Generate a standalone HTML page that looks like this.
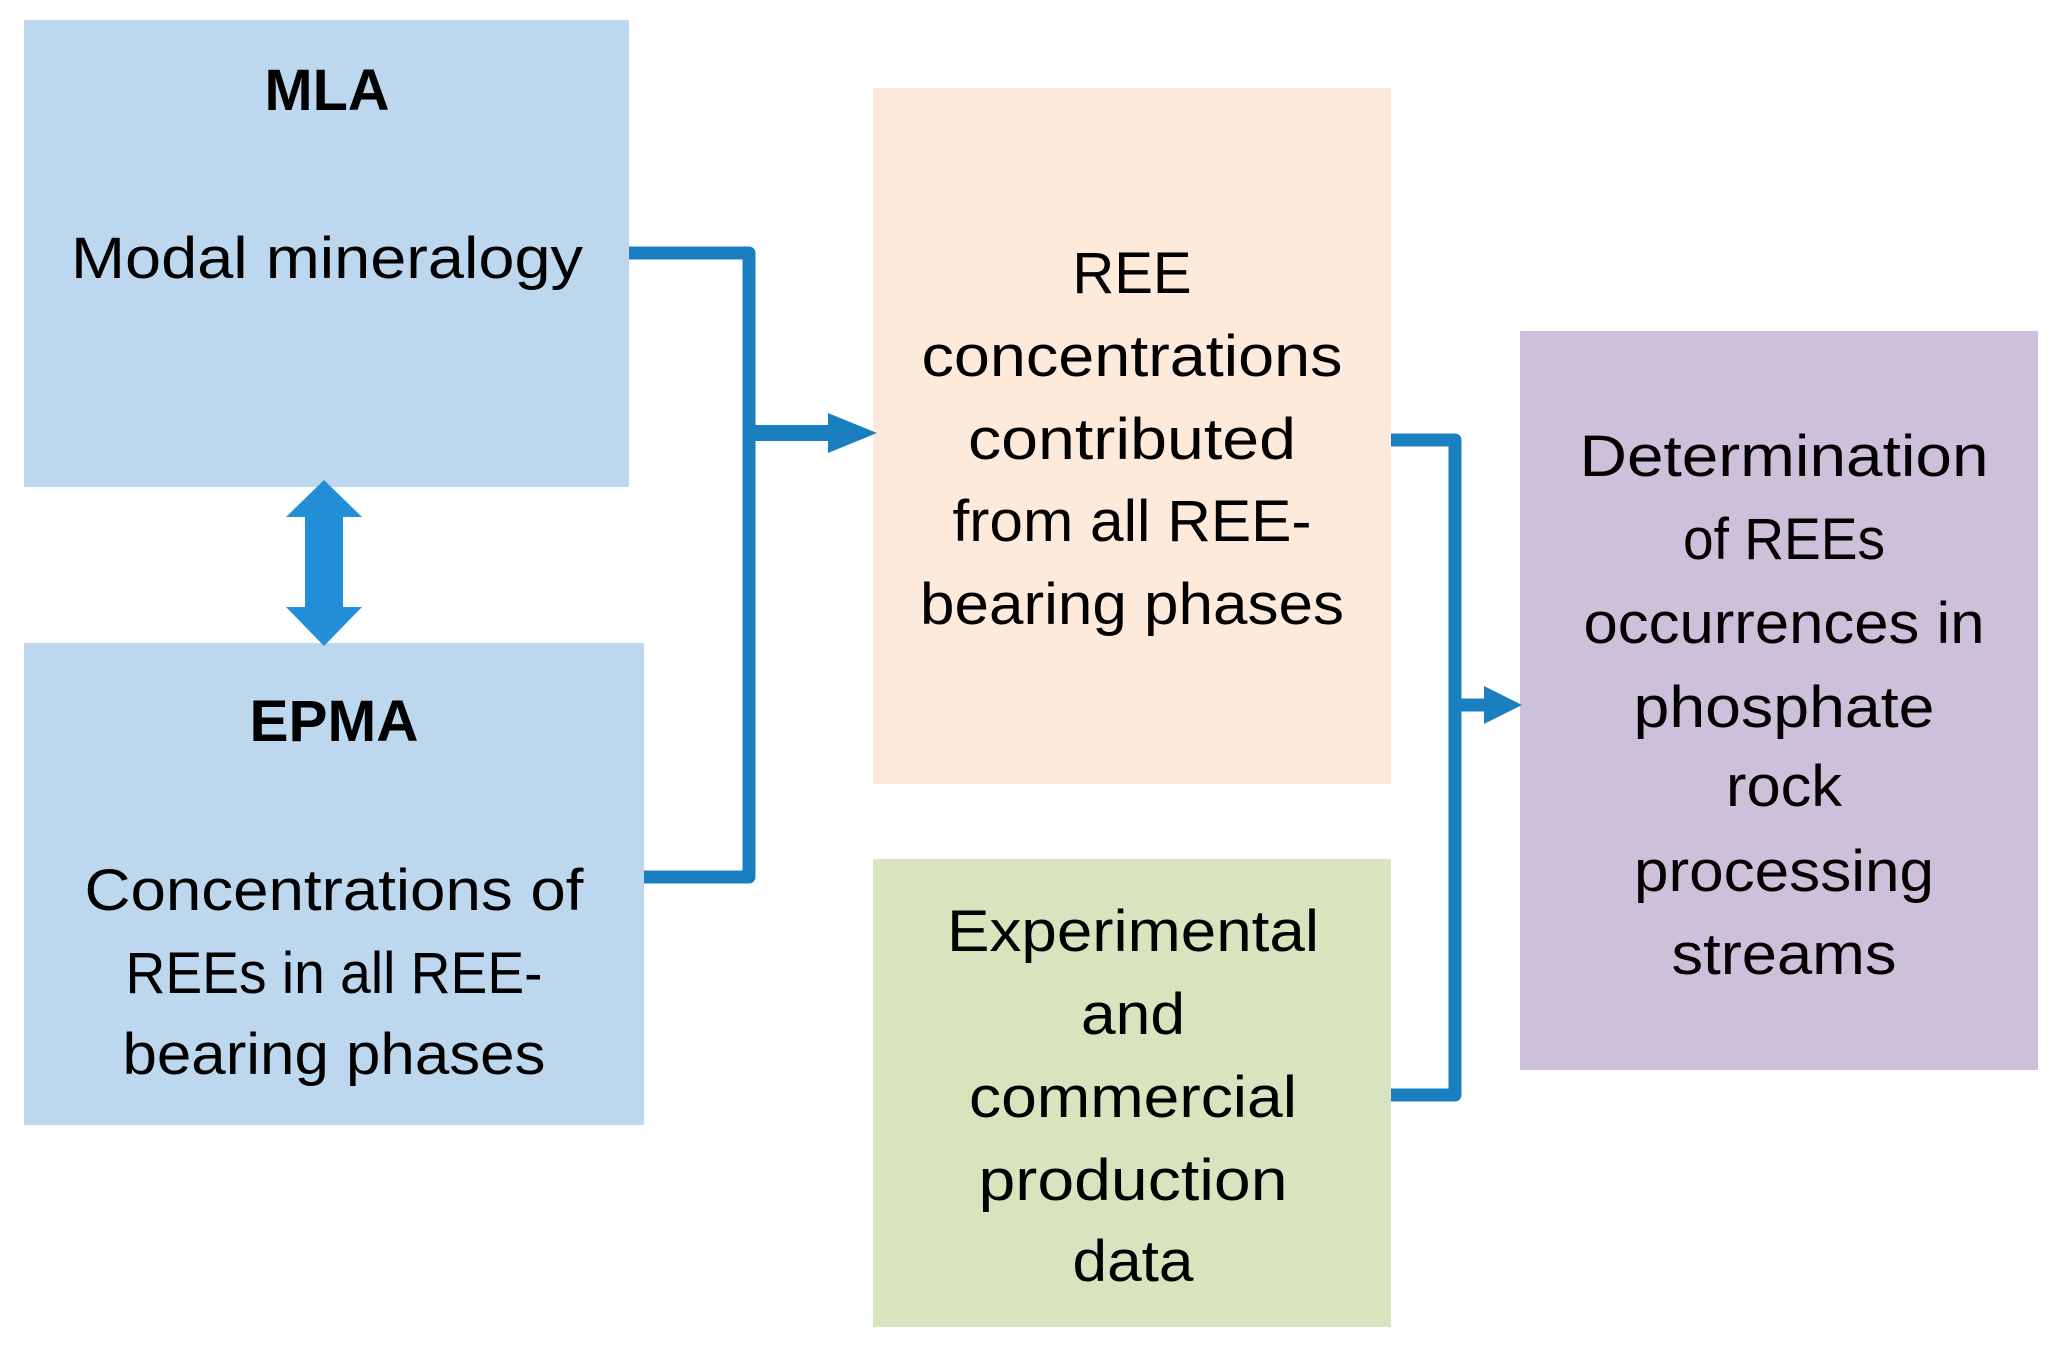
<!DOCTYPE html>
<html><head><meta charset="utf-8"><style>
html,body{margin:0;padding:0;background:#fff;}
svg{display:block;}
text{font-family:"Liberation Sans",sans-serif;font-size:58px;fill:#000;text-anchor:middle;}
.b{font-weight:bold;}
</style></head><body>
<svg width="2061" height="1349" viewBox="0 0 2061 1349" xmlns="http://www.w3.org/2000/svg">
<rect x="24" y="20" width="605" height="467" fill="#BDD7EE"/>
<rect x="24" y="643" width="620" height="482" fill="#BDD7EE"/>
<rect x="873" y="88" width="518" height="696" fill="#FDEADA"/>
<rect x="873" y="859" width="518" height="468" fill="#D7E4BD"/>
<rect x="1520" y="331" width="518" height="739" fill="#CCC0DA"/>

<polygon points="324,480 362,517 343,517 343,607 362,607 324,646 286,607 305,607 305,517 286,517" fill="#228FD8"/>

<g fill="none" stroke="#1A7FC1" stroke-width="13" stroke-linejoin="round">
<polyline points="629,253 749,253 749,877 644,877"/>
</g>
<line x1="749" y1="433" x2="832" y2="433" stroke="#1A7FC1" stroke-width="16"/>
<polygon points="828,413 877,433 828,453" fill="#1A7FC1"/>

<g fill="none" stroke="#1A7FC1" stroke-width="13" stroke-linejoin="round">
<polyline points="1391,440 1455,440 1455,1095 1391,1095"/>
</g>
<line x1="1455" y1="705" x2="1488" y2="705" stroke="#1A7FC1" stroke-width="13"/>
<polygon points="1484,686 1522,705 1484,724" fill="#1A7FC1"/>

<text class="b" x="327" y="110" textLength="125" lengthAdjust="spacingAndGlyphs">MLA</text>
<text x="327" y="278" textLength="512" lengthAdjust="spacingAndGlyphs">Modal mineralogy</text>

<text class="b" x="334" y="741" textLength="169" lengthAdjust="spacingAndGlyphs">EPMA</text>
<text x="334" y="910" textLength="499" lengthAdjust="spacingAndGlyphs">Concentrations of</text>
<text x="334" y="993" textLength="417" lengthAdjust="spacingAndGlyphs">REEs in all REE-</text>
<text x="334" y="1074" textLength="423" lengthAdjust="spacingAndGlyphs">bearing phases</text>

<text x="1132" y="293">REE</text>
<text x="1132" y="376" textLength="421" lengthAdjust="spacingAndGlyphs">concentrations</text>
<text x="1132" y="459" textLength="328" lengthAdjust="spacingAndGlyphs">contributed</text>
<text x="1132" y="541" textLength="359" lengthAdjust="spacingAndGlyphs">from all REE-</text>
<text x="1132" y="624" textLength="424" lengthAdjust="spacingAndGlyphs">bearing phases</text>

<text x="1133" y="951" textLength="372" lengthAdjust="spacingAndGlyphs">Experimental</text>
<text x="1133" y="1034" textLength="104" lengthAdjust="spacingAndGlyphs">and</text>
<text x="1133" y="1117" textLength="328" lengthAdjust="spacingAndGlyphs">commercial</text>
<text x="1133" y="1200" textLength="309" lengthAdjust="spacingAndGlyphs">production</text>
<text x="1133" y="1281" textLength="121" lengthAdjust="spacingAndGlyphs">data</text>

<text x="1784" y="476" textLength="409" lengthAdjust="spacingAndGlyphs">Determination</text>
<text x="1784" y="559" textLength="202" lengthAdjust="spacingAndGlyphs">of REEs</text>
<text x="1784" y="643" textLength="401" lengthAdjust="spacingAndGlyphs">occurrences in</text>
<text x="1784" y="727" textLength="301" lengthAdjust="spacingAndGlyphs">phosphate</text>
<text x="1784" y="806" textLength="116" lengthAdjust="spacingAndGlyphs">rock</text>
<text x="1784" y="891" textLength="300" lengthAdjust="spacingAndGlyphs">processing</text>
<text x="1784" y="974" textLength="225" lengthAdjust="spacingAndGlyphs">streams</text>
</svg>
</body></html>
